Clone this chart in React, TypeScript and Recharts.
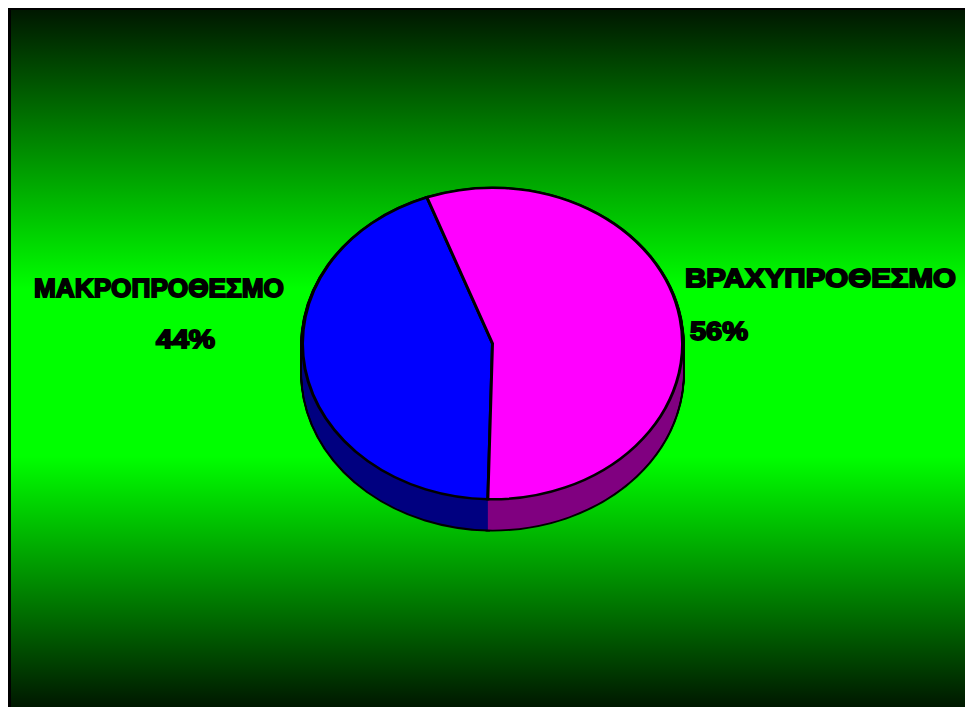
import React from 'react';
import { PieChart, Pie, Cell } from 'recharts';

const categories = ['ΜΑΚΡΟΠΡΟΘΕΣΜΟ', 'ΒΡΑΧΥΠΡΟΘΕΣΜΟ'];
const values = [44, 56];
const percentLabels = ['44%', '56%'];
const topColors = ['#0000FF', '#FF00FF'];
const sideColors = ['#000080', '#800080'];

const data = categories.map((name, i) => ({ name, value: values[i], pct: percentLabels[i] }));

const SCALE_Y = 0.82;
const CX = 481.5;
const CY = 406.7;
const R = 190;
const DEPTH = 37;
const START = 110.2;
const layers: number[] = [];
for (let d = DEPTH; d >= 1; d--) layers.push(d);

const FONT = '"Liberation Sans", Arial, sans-serif';
const nameWidths = [250, 271];
const pctWidths = [59, 58];

const renderLabel = (props: any) => {
  const { cx, cy, index } = props;
  const pos = index === 0
    ? { nx: cx - 333.5, ny: cy - 56.7, px: cx - 307, py: cy + 5.5 }
    : { nx: cx + 328, ny: cy - 69, px: cx + 226.5, py: cy - 4.3 };
  const common = {
    fontFamily: FONT,
    fontWeight: 700,
    fontSize: 26,
    fill: '#000',
    stroke: '#000',
    strokeWidth: 1.8,
    textAnchor: 'middle' as const,
    lengthAdjust: 'spacingAndGlyphs',
  };
  return (
    <g key={`lbl-${index}`}>
      <text {...common} textLength={nameWidths[index]} transform={`translate(${pos.nx} ${pos.ny}) scale(1 ${1 / SCALE_Y})`} x={0} y={0}>
        {categories[index]}
      </text>
      <text {...common} textLength={pctWidths[index]} transform={`translate(${pos.px} ${pos.py}) scale(1 ${1 / SCALE_Y})`} x={0} y={0}>
        {percentLabels[index]}
      </text>
    </g>
  );
};

export default function App() {
  return (
    <div
      style={{
        position: 'relative',
        width: 965,
        height: 700,
        marginTop: -1,
        borderLeft: '3px solid #000',
        borderTop: '3px solid #000',
        boxSizing: 'border-box',
        overflow: 'hidden',
        background: 'linear-gradient(to bottom, #001800 0%, #00ff00 40%, #00ff00 64%, #001800 100%)',
      }}
    >
      <div
        style={{
          position: 'absolute',
          left: 0,
          top: 0,
          transform: `scaleY(${SCALE_Y})`,
          transformOrigin: '0 0',
        }}
      >
        <PieChart width={962} height={860} margin={{ top: 0, right: 0, bottom: 0, left: 0 }}>
          {layers.map((d) => (
            <Pie
              key={`o-${d}`}
              data={data}
              dataKey="value"
              cx={CX}
              cy={CY + d}
              outerRadius={R}
              startAngle={START}
              endAngle={START + 360}
              stroke="#000"
              strokeWidth={4.5}
              isAnimationActive={false}
            >
              {data.map((_, i) => (
                <Cell key={i} fill={sideColors[i]} />
              ))}
            </Pie>
          ))}
          {layers.map((d) => (
            <Pie
              key={`s-${d}`}
              data={data}
              dataKey="value"
              cx={CX}
              cy={CY + d}
              outerRadius={R}
              startAngle={START}
              endAngle={START + 360}
              stroke="none"
              isAnimationActive={false}
            >
              {data.map((_, i) => (
                <Cell key={i} fill={sideColors[i]} />
              ))}
            </Pie>
          ))}
          <Pie
            data={data}
            dataKey="value"
            cx={CX}
            cy={CY}
            outerRadius={R}
            startAngle={START}
            endAngle={START + 360}
            stroke="#000"
            strokeWidth={3}
            isAnimationActive={false}
            label={renderLabel}
            labelLine={false}
          >
            {data.map((_, i) => (
              <Cell key={i} fill={topColors[i]} />
            ))}
          </Pie>
        </PieChart>
      </div>
    </div>
  );
}
